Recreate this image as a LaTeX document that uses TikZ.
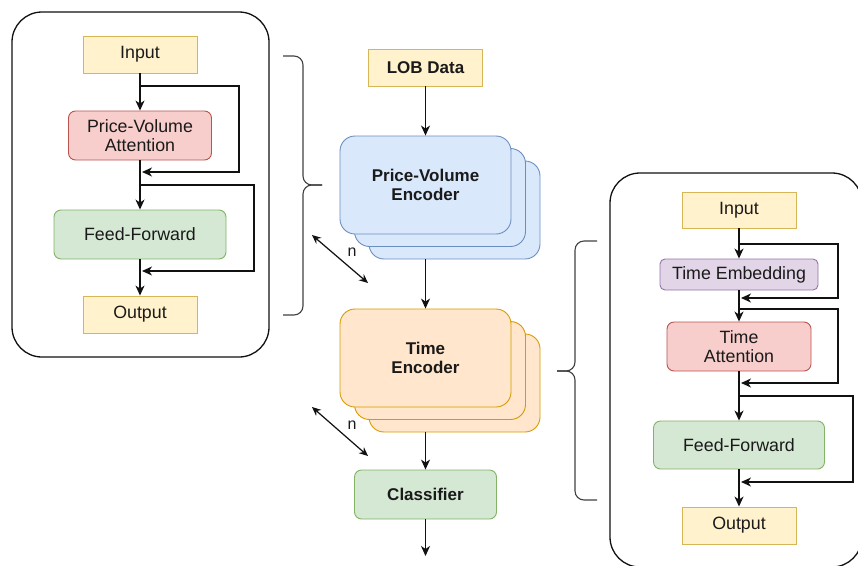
\documentclass[tikz,border=0pt]{standalone}
\usepackage{fontspec}
\setmainfont{Liberation Sans}
\usetikzlibrary{arrows.meta}
\definecolor{ylwf}{HTML}{FFF2CC}\definecolor{ylwd}{HTML}{D6B656}
\definecolor{redf}{HTML}{F8CECC}\definecolor{redd}{HTML}{B85450}
\definecolor{grnf}{HTML}{D5E8D4}\definecolor{grnd}{HTML}{82B366}
\definecolor{bluf}{HTML}{DAE8FC}\definecolor{blud}{HTML}{6C8EBF}
\definecolor{orgf}{HTML}{FFE6CC}\definecolor{orgd}{HTML}{D79B00}
\definecolor{purf}{HTML}{E1D5E7}\definecolor{purd}{HTML}{9673A6}
\definecolor{txt}{HTML}{1A1A1A}
\definecolor{lin}{HTML}{111111}
\begin{document}
\begin{tikzpicture}[x=1pt,y=-1pt,
  box/.style={draw, line width=0.9pt, inner sep=0pt, align=center, text=txt,
    font=\fontsize{17.8}{19.5}\selectfont},
  bbox/.style={box, font=\fontsize{17}{19.5}\selectfont\bfseries},
  sz/.style 2 args={minimum width=#1pt, minimum height=#2pt},
  ylw/.style={fill=ylwf, draw=ylwd},
  rd/.style={fill=redf, draw=redd, rounded corners=7pt},
  gr/.style={fill=grnf, draw=grnd, rounded corners=7pt},
  pu/.style={fill=purf, draw=purd, rounded corners=5pt},
  bl/.style={fill=bluf, draw=blud, rounded corners=15pt},
  og/.style={fill=orgf, draw=orgd, rounded corners=15pt},
  arr/.style={draw=lin, line width=1.3pt, -{Stealth[length=10pt,width=9pt,inset=3pt]}},
  dbl/.style={draw=lin, line width=1.2pt, {Stealth[length=9pt,width=8pt,inset=3pt]}-{Stealth[length=9pt,width=8pt,inset=3pt]}},
  pln/.style={draw=lin, line width=1.3pt},
  panel/.style={draw=lin, line width=1.3pt, rounded corners=30pt},
  brc/.style={draw=black!75, line width=1.1pt, rounded corners=9pt},
]
\useasboundingbox (0,0) rectangle (858,565);
\begin{scope}
\clip (0,0) rectangle (858,565);

% ---------- left panel ----------
\draw[panel] (12,12) rectangle (269,357);
\node[box, ylw, sz={114}{37}] (lin) at (140,54.5) {Input};
\node[box, rd, sz={143}{49}] (lpva) at (140,135.5) {Price-Volume\\Attention};
\node[box, gr, sz={172}{49}] (lff) at (140,234.5) {Feed-Forward};
\node[box, ylw, sz={114}{37}] (lout) at (140,314.5) {Output};
\draw[arr] (lin.south) -- (lpva.north);
\draw[arr] (lpva.south) -- (lff.north);
\draw[arr] (lff.south) -- (lout.north);
\coordinate (la1) at (140,86); \coordinate (la2) at (239,86);
\coordinate (la3) at (239,172); \coordinate (la4) at (142,172);
\draw[arr] (la1) -- (la2) -- (la3) -- (la4);
\coordinate (lb1) at (140,185); \coordinate (lb2) at (254,185);
\coordinate (lb3) at (254,271); \coordinate (lb4) at (142,271);
\draw[arr] (lb1) -- (lb2) -- (lb3) -- (lb4);

% left brace
\coordinate (lbt) at (283,56); \coordinate (lbm) at (322,185); \coordinate (lbb) at (283,315);
\draw[brc] (lbt) -- (303,56) -- (303,185) -- (lbm);
\draw[brc] (lbm) -- (303,185) -- (303,315) -- (lbb);

% ---------- centre column ----------
\node[bbox, ylw, sz={114}{37}] (lob) at (425.5,67.5) {LOB Data};
\node[box, bl, sz={171}{98}] (pv3) at (454.5,210) {};
\node[box, bl, sz={171}{98}] (pv2) at (440,197.5) {};
\node[bbox, bl, sz={171}{98}] (pv1) at (425.5,185) {Price-Volume\\Encoder};
\draw[arr] (lob.south) -- (pv1.north);

\node[box, og, sz={171}{98}] (te3) at (454.5,383) {};
\node[box, og, sz={171}{98}] (te2) at (440,370.5) {};
\node[bbox, og, sz={171}{98}] (te1) at (425.5,358) {Time\\Encoder};
\draw[arr] (pv1.center |- pv3.south) -- (te1.north);

\node[bbox, gr, sz={142}{49}] (cls) at (425.5,494.5) {Classifier};
\draw[arr] (te1.center |- te3.south) -- (cls.north);
\coordinate (fin) at (425.5,556);
\draw[arr] (cls.south) -- (fin);

% n arrows
\coordinate (n1a) at (312,235); \coordinate (n1b) at (368,283);
\draw[dbl] (n1a) -- (n1b);
\node[text=txt, font=\fontsize{16}{18}\selectfont] (n1) at (352,252) {n};
\coordinate (n2a) at (312,407); \coordinate (n2b) at (368,456);
\draw[dbl] (n2a) -- (n2b);
\node[text=txt, font=\fontsize{16}{18}\selectfont] (n2) at (352,425) {n};

% ---------- right panel ----------
\draw[panel] (610,173) rectangle (862,567);
\node[box, ylw, sz={114}{36}] (rin) at (739,210) {Input};
\node[box, pu, sz={158}{31}] (rte) at (739,274.5) {Time Embedding};
\node[box, rd, sz={144}{49}] (rta) at (739,346.5) {Time\\Attention};
\node[box, gr, sz={171}{48}] (rff) at (739,445) {Feed-Forward};
\node[box, ylw, sz={114}{37}] (rout) at (739,525.5) {Output};
\draw[arr] (rin.south) -- (rte.north);
\draw[arr] (rte.south) -- (rta.north);
\draw[arr] (rta.south) -- (rff.north);
\draw[arr] (rff.south) -- (rout.north);
\coordinate (ra1) at (739,244); \coordinate (ra2) at (838,244);
\coordinate (ra3) at (838,298); \coordinate (ra4) at (741,298);
\draw[arr] (ra1) -- (ra2) -- (ra3) -- (ra4);
\coordinate (rb1) at (739,309); \coordinate (rb2) at (838,309);
\coordinate (rb3) at (838,383); \coordinate (rb4) at (741,383);
\draw[arr] (rb1) -- (rb2) -- (rb3) -- (rb4);
\coordinate (rc1) at (739,396); \coordinate (rc2) at (853,396);
\coordinate (rc3) at (853,482); \coordinate (rc4) at (741,482);
\draw[arr] (rc1) -- (rc2) -- (rc3) -- (rc4);

% right brace
\coordinate (rbt) at (597,241); \coordinate (rbm) at (557,371); \coordinate (rbb) at (597,500);
\draw[brc] (rbt) -- (575,241) -- (575,371) -- (rbm);
\draw[brc] (rbm) -- (575,371) -- (575,500) -- (rbb);
\end{scope}
\end{tikzpicture}
\end{document}
